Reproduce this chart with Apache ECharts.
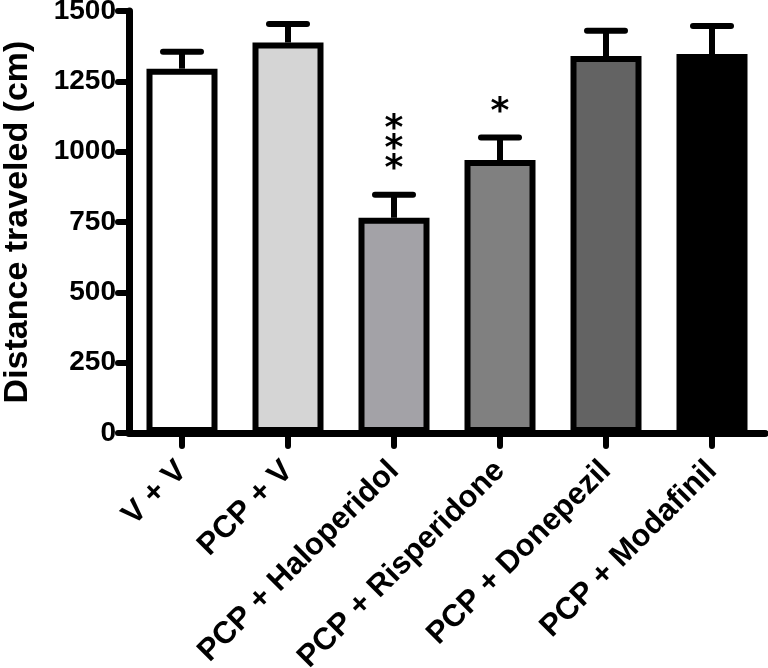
<!DOCTYPE html>
<html>
<head>
<meta charset="utf-8">
<script src="https://cdn.jsdelivr.net/npm/echarts@6/dist/echarts.min.js"></script>
<style>
html,body{margin:0;padding:0;background:#fff;}
#chart{width:768px;height:668px;}
</style>
</head>
<body>
<div id="chart"></div>
<script>
const categories = ['V + V', 'PCP + V', 'PCP + Haloperidol', 'PCP + Risperidone', 'PCP + Donepezil', 'PCP + Modafinil'];
const means = [1295, 1388, 765, 970, 1340, 1347];
const errorTops = [1355, 1454, 847, 1050, 1430, 1447];
const significance = ['', '', '***', '*', '', ''];
const barColors = ['#ffffff', '#d5d5d5', '#a3a2a7', '#808080', '#636363', '#000000'];
const yTicks = [0, 250, 500, 750, 1000, 1250, 1500];

const FONT = 'Liberation Sans, Arial, sans-serif';
const chart = echarts.init(document.getElementById('chart'), null, {renderer: 'canvas'});

const errData = categories.map((c, i) => [i, errorTops[i], means[i], significance[i]]);

chart.setOption({
  animation: false,
  backgroundColor: '#ffffff',
  grid: {left: 129, right: 3, top: 11, bottom: 235, containLabel: false, outerBoundsMode: 'none'},
  xAxis: {
    type: 'category',
    data: categories,
    axisLine: {show: true, lineStyle: {color: '#000', width: 7, cap: 'round'}},
    axisTick: {show: true, alignWithLabel: true, length: 13, lineStyle: {color: '#000', width: 6, cap: 'round'}},
    axisLabel: {rotate: 45, margin: 33, color: '#000', fontSize: 31, fontWeight: 'bold', fontFamily: FONT, interval: 0}
  },
  yAxis: {
    type: 'value',
    min: yTicks[0],
    max: yTicks[yTicks.length - 1],
    interval: yTicks[1] - yTicks[0],
    name: 'Distance traveled (cm)',
    nameLocation: 'middle',
    nameGap: 94,
    nameRotate: 90,
    nameTextStyle: {color: '#000', fontSize: 34, fontWeight: 'bold', fontFamily: FONT},
    axisLine: {show: true, lineStyle: {color: '#000', width: 7, cap: 'round'}},
    axisTick: {show: true, length: 11, lineStyle: {color: '#000', width: 6, cap: 'round'}},
    splitLine: {show: false},
    axisLabel: {margin: 13, color: '#000', fontSize: 28, fontWeight: 'bold', fontFamily: FONT,
      formatter: function (v) { return String(v); }}
  },
  series: [
    {
      type: 'custom',
      z: 1,
      data: errData,
      renderItem: function (params, api) {
        const idx = api.value(0);
        const top = api.coord([idx, api.value(1)]);
        const base = api.coord([idx, api.value(2)]);
        const sig = significance[params.dataIndex];
        const children = [
          {type: 'line', shape: {x1: top[0], y1: base[1], x2: top[0], y2: top[1]}, style: {stroke: '#000', lineWidth: 6}},
          {type: 'line', shape: {x1: top[0] - 19, y1: top[1], x2: top[0] + 19, y2: top[1]}, style: {stroke: '#000', lineWidth: 6, lineCap: 'round'}}
        ];
        for (let k = 0; k < sig.length; k++) {
          children.push({
            type: 'text',
            style: {
              text: '*', x: top[0], y: top[1] - 33 - 20 * k + 8,
              fill: '#000', font: 'bold 36px DejaVu Sans',
              textAlign: 'center', textVerticalAlign: 'middle'
            }
          });
        }
        return {type: 'group', children: children};
      }
    },
    {
      type: 'bar',
      z: 2,
      barWidth: 71,
      data: means.map((v, i) => ({value: v, itemStyle: {color: barColors[i]}})),
      itemStyle: {borderColor: '#000', borderWidth: 6}
    }
  ]
});
</script>
</body>
</html>
